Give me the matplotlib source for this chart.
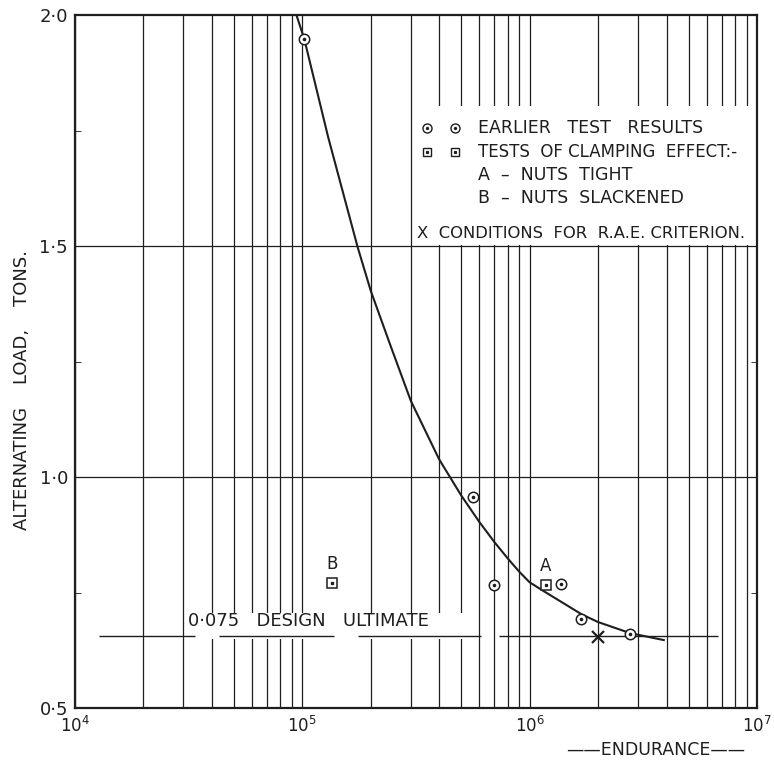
import numpy as np
import matplotlib
matplotlib.use("Agg")
import matplotlib.pyplot as plt
from matplotlib.patches import Rectangle
from matplotlib.ticker import NullFormatter

# --- data ---
curve_endurance = [9.42e4, 1.02e5, 1.3e5, 1.75e5, 2.0e5, 2.44e5, 3.0e5, 4.0e5, 5.0e5,
                   6.0e5, 7.0e5, 8.0e5, 9.0e5, 1.0e6, 1.17e6, 1.69e6, 2.0e6, 2.77e6, 3.89e6]
curve_load = [2.0, 1.948, 1.735, 1.498, 1.403, 1.285, 1.165, 1.038, 0.960,
              0.903, 0.859, 0.824, 0.795, 0.772, 0.751, 0.703, 0.686, 0.662, 0.647]

earlier_endurance = [1.02e5, 5.65e5, 6.97e5, 1.37e6, 1.69e6, 2.77e6]
earlier_load = [1.948, 0.957, 0.766, 0.768, 0.693, 0.660]

clamp_labels = ['A', 'B']
clamp_endurance = [1.18e6, 1.35e5]
clamp_load = [0.766, 0.770]

rae_endurance = [2.0e6]
rae_load = [0.654]

design_load = 0.655
design_start = [1.27e4, 4.31e4, 1.75e5, 7.33e5]
design_end = [3.36e4, 1.38e5, 6.12e5, 6.73e6]

y_ticks = [0.5, 1.0, 1.5, 2.0]
y_labels = ['0·5', '1·0', '1·5', '2·0']
y_minor = [0.75, 1.25, 1.75]

ink = '#1e1e1e'
plt.rcParams['font.family'] = ['DejaVu Sans']

fig = plt.figure(figsize=(7.74, 7.63), dpi=100)
ax = fig.add_axes([75/774, 55/763, 682/774, 693/763])
ax.set_xscale('log')
ax.set_xlim(1e4, 1e7)
ax.set_ylim(0.5, 2.0)

# vertical log grid, broken where lettering sits
ax.set_axisbelow(True)
ax.grid(True, which='both', axis='x', color=ink, lw=0.9)
ax.add_patch(Rectangle((3.22e5, 1.503), 1e7 - 3.22e5, 0.30, facecolor='white',
                       edgecolor='none', zorder=1))
ax.add_patch(Rectangle((3.64e4, 0.649), 5.43e5 - 3.64e4, 0.057, facecolor='white',
                       edgecolor='none', zorder=1))
for yv in [1.0, 1.5]:
    ax.axhline(yv, color=ink, lw=0.9, zorder=2)

ax.hlines([design_load] * len(design_start), design_start, design_end,
          color=ink, lw=1.0, zorder=2)
ax.text(3.13e4, 0.669, '0·075   DESIGN   ULTIMATE', fontsize=13, color=ink,
        ha='left', va='bottom', zorder=3)

ax.plot(curve_endurance, curve_load, color=ink, lw=1.5, zorder=4)

ax.plot(earlier_endurance, earlier_load, 'o', ms=7.5, mfc='white', mec=ink, mew=1.1, zorder=5)
ax.plot(earlier_endurance, earlier_load, 'o', ms=1.6, color=ink, zorder=6)
ax.plot(clamp_endurance, clamp_load, 's', ms=6.5, mfc='white', mec=ink, mew=1.1, zorder=5)
ax.plot(clamp_endurance, clamp_load, 's', ms=1.4, color=ink, zorder=6)
for lab, xv, yv in zip(clamp_labels, clamp_endurance, clamp_load):
    ax.text(xv, yv + 0.022, lab, fontsize=12, color=ink, ha='center', va='bottom')
ax.plot(rae_endurance, rae_load, 'x', ms=8, mew=1.6, color=ink, zorder=6)

# key
kx = [0.516, 0.557]
ax.plot(kx, [0.837, 0.837], 'o', ms=6.5, mfc='white', mec=ink, mew=1.0, transform=ax.transAxes, zorder=5)
ax.plot(kx, [0.837, 0.837], 'o', ms=1.4, color=ink, transform=ax.transAxes, zorder=6)
ax.plot(kx, [0.802, 0.802], 's', ms=6, mfc='white', mec=ink, mew=1.0, transform=ax.transAxes, zorder=5)
ax.plot(kx, [0.802, 0.802], 's', ms=1.3, color=ink, transform=ax.transAxes, zorder=6)
key_lines = [('EARLIER   TEST   RESULTS', 0.591, 0.837, 12.5),
             ('TESTS  OF CLAMPING  EFFECT:-', 0.591, 0.802, 12),
             ('A  –  NUTS  TIGHT', 0.591, 0.769, 12.5),
             ('B  –  NUTS  SLACKENED', 0.591, 0.736, 12.5),
             ('X  CONDITIONS  FOR  R.A.E. CRITERION.', 0.501, 0.685, 11.8)]
for txt, tx, ty, fs in key_lines:
    ax.text(tx, ty, txt, fontsize=fs, color=ink, ha='left', va='center',
            transform=ax.transAxes)

# axes and ticks
for sp in ax.spines.values():
    sp.set_linewidth(1.6)
    sp.set_color(ink)
ax.set_yticks(y_ticks)
ax.set_yticklabels(y_labels)
ax.set_yticks(y_minor, minor=True)
ax.tick_params(axis='y', which='major', length=0, pad=5, labelsize=13, colors=ink)
ax.tick_params(axis='y', which='minor', direction='in', length=4, left=True, right=True,
               color=ink)
ax.tick_params(axis='x', which='both', length=0, pad=6, labelsize=12, colors=ink)
ax.xaxis.set_minor_formatter(NullFormatter())

fig.text(22/774, 1 - 390/763, 'ALTERNATING    LOAD,    TONS.', rotation=90, fontsize=13,
         color=ink, ha='center', va='center')
fig.text(656/774, 1 - 750/763, '——ENDURANCE——', fontsize=12.5, color=ink,
         ha='center', va='center')

fig.savefig('out.png', dpi=100)
